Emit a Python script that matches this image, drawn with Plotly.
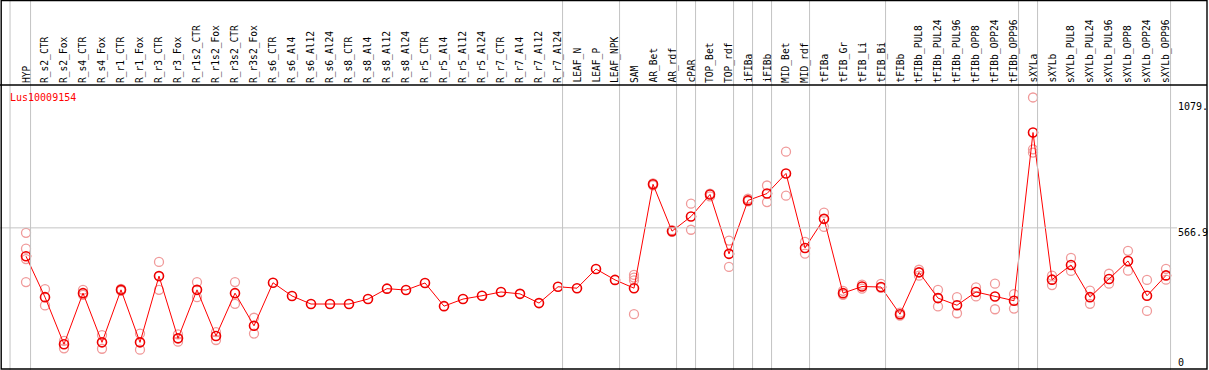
import plotly.graph_objects as go

categories = ["HYP", "R_s2_CTR", "R_s2_Fox", "R_s4_CTR", "R_s4_Fox", "R_r1_CTR", "R_r1_Fox",
              "R_r3_CTR", "R_r3_Fox", "R_r1s2_CTR", "R_r1s2_Fox", "R_r3s2_CTR", "R_r3s2_Fox",
              "R_s6_CTR", "R_s6_Al4", "R_s6_Al12", "R_s6_Al24", "R_s8_CTR", "R_s8_Al4",
              "R_s8_Al12", "R_s8_Al24", "R_r5_CTR", "R_r5_Al4", "R_r5_Al12", "R_r5_Al24",
              "R_r7_CTR", "R_r7_Al4", "R_r7_Al12", "R_r7_Al24", "LEAF_N", "LEAF_P", "LEAF_NPK",
              "SAM", "AR_Bet", "AR_rdf", "cPAR", "TOP_Bet", "TOP_rdf", "iFIBa", "iFIBb",
              "MID_Bet", "MID_rdf", "tFIBa", "tFIB_Gr", "tFIB_Li", "tFIB_Bi", "tFIBb",
              "tFIBb_PUL8", "tFIBb_PUL24", "tFIBb_PUL96", "tFIBb_OPP8", "tFIBb_OPP24",
              "tFIBb_OPP96", "sXYLa", "sXYLb", "sXYLb_PUL8", "sXYLb_PUL24", "sXYLb_PUL96",
              "sXYLb_OPP8", "sXYLb_OPP24", "sXYLb_OPP96"]

mean_values = [447, 274, 75, 291, 83, 305, 83, 363, 100, 305, 110, 291, 153,
               335, 279, 245, 245, 245, 266, 310, 304, 334, 236, 266, 280,
               296, 288, 249, 318, 312, 393, 347,
               312, 751, 553, 615, 708, 457, 683, 712, 797, 482,
               605, 291, 319, 317, 202, 379, 270, 240, 296, 277, 259,
               970, 348, 410, 274, 351, 427, 280, 366]

replicates = [[546, 479, 435, 338], [308, 239], [89, 58], [305, 284], [114, 56], [309, 301],
              [120, 52], [423, 305], [117, 86], [338, 274], [126, 93], [338, 246], [187, 120],
              [], [], [], [], [], [], [], [], [], [], [], [], [], [], [], [], [], [], [],
              [368, 357, 345, 202], [755, 747], [557, 550], [669, 559], [712, 700], [513, 402],
              [690, 679], [746, 676], [889, 703], [508, 458],
              [631, 571], [301, 284], [327, 310], [330, 313], [209, 196], [390, 365],
              [305, 235], [274, 206], [315, 277], [331, 223], [287, 226],
              [1118, 899, 885], [365, 325], [440, 385], [302, 246], [373, 331],
              [470, 386], [347, 216], [394, 348]]

group_ends = [0, 28, 31, 34, 35, 37, 38, 39, 41, 45, 52, 53, 60]
gene_name = "Lus10009154"
axis_labels = [(1079, "1079."), (566.9, "566.9"), (0, "0")]

W, H = 1209, 370
x0px, dx = 26, 19
xmin = -x0px / dx
xmax = (W - x0px) / dx
y0px, slope = 362, 0.2366
ymax = y0px / slope
ymin = (y0px - H) / slope

idx = list(range(len(categories)))

rx, ry = [], []
for i, reps in enumerate(replicates):
    for r in reps:
        rx.append(i)
        ry.append(r)

fig = go.Figure()
fig.add_trace(go.Scatter(x=rx, y=ry, mode="markers",
                         marker=dict(symbol="circle-open", size=9, color="#f09a9a",
                                     line=dict(width=1.3, color="#f09a9a")),
                         hoverinfo="skip", showlegend=False))
fig.add_trace(go.Scatter(x=idx, y=mean_values, mode="lines+markers",
                         line=dict(color="#ff0000", width=1),
                         marker=dict(symbol="circle-open", size=9, color="#ee0000",
                                     line=dict(width=1.6, color="#ee0000")),
                         showlegend=False))

shapes = []
shapes.append(dict(type="line", xref="x", yref="paper", x0=-0.84, x1=-0.84, y0=0, y1=1,
                   line=dict(color="#c4c4c4", width=1)))
for g in group_ends:
    shapes.append(dict(type="line", xref="x", yref="paper", x0=g + 0.24, x1=g + 0.24, y0=0, y1=1,
                       line=dict(color="#c4c4c4", width=1)))
shapes.append(dict(type="line", xref="x", yref="y", x0=xmin, x1=(1177 - x0px) / dx,
                   y0=566.9, y1=566.9, line=dict(color="#c4c4c4", width=1)))
shapes.append(dict(type="line", xref="paper", yref="paper", x0=0, x1=1207 / W,
                   y0=1 - 85 / H, y1=1 - 85 / H, line=dict(color="black", width=1.6)))
shapes.append(dict(type="rect", xref="paper", yref="paper", x0=1.2 / W, x1=1207 / W,
                   y0=1 - 369 / H, y1=1 - 0.6 / H, line=dict(color="black", width=1.4),
                   fillcolor="rgba(0,0,0,0)"))

annotations = []
for i, c in enumerate(categories):
    annotations.append(dict(x=i, y=1 - 84 / H, xref="x", yref="paper", text=c, showarrow=False,
                            textangle=-90, xanchor="center", yanchor="bottom", borderpad=0,
                            font=dict(family="DejaVu Sans Mono", size=9.6, color="black")))
annotations.append(dict(x=9 / W, y=1 - 97.5 / H, xref="paper", yref="paper", text=gene_name,
                        showarrow=False, xanchor="left", yanchor="middle", borderpad=0,
                        font=dict(family="DejaVu Sans Mono", size=10, color="#ff0000")))
for v, t in axis_labels:
    annotations.append(dict(x=1177 / W, y=v, xref="paper", yref="y", text=t, showarrow=False,
                            xanchor="left", yanchor="middle", borderpad=0,
                            yshift=-5 if v == 566.9 else 0,
                            font=dict(family="DejaVu Sans Mono", size=10, color="black")))

fig.update_layout(width=W, height=H, margin=dict(l=0, r=0, t=0, b=0),
                  paper_bgcolor="white", plot_bgcolor="white",
                  xaxis=dict(visible=False, range=[xmin, xmax], fixedrange=True),
                  yaxis=dict(visible=False, range=[ymin, ymax], fixedrange=True),
                  shapes=shapes, annotations=annotations, showlegend=False)

fig.write_html("out.html", config={"displayModeBar": False},
               post_script="document.body.style.margin='0';document.body.style.padding='0';"
                           "document.body.style.overflow='hidden';")
